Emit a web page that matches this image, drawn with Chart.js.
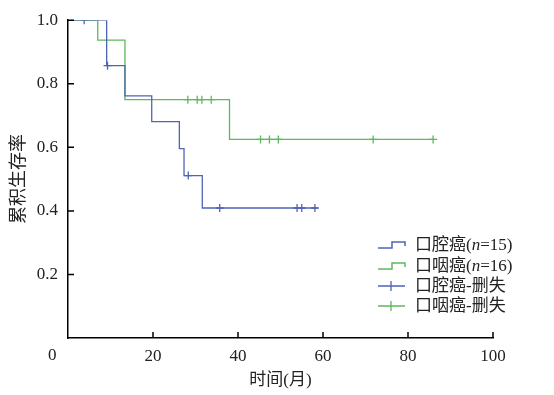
<!DOCTYPE html>
<html>
<head>
<meta charset="utf-8">
<script src="https://cdn.jsdelivr.net/npm/chart.js@4.4.0/dist/chart.umd.min.js"></script>
<style>
  body { margin: 0; background: #fff; }
  #wrap { position: relative; width: 554px; height: 395px; }
  .lab { position: absolute; font-family: "Times New Roman", "Liberation Serif", "DejaVu Serif", "Noto Sans CJK SC", serif; font-size: 17px; color: #222; line-height: 20px; white-space: nowrap; }
  .row { position: absolute; left: 376px; height: 20px; display: flex; align-items: center; }
  .row svg { margin-right: 9px; }
</style>
</head>
<body>
<div id="wrap">
  <canvas id="km" width="554" height="395"></canvas>
  <div class="lab" style="left:48px; top:345px;">0</div>
  <div class="lab row" style="top:235px;"><svg width="30" height="12"><polyline points="2,9 16,9 16,3 29,3 29,7" fill="none" stroke="#5064b4" stroke-width="1.5"/></svg>口腔癌(<i>n</i>=15)</div>
  <div class="lab row" style="top:256px;"><svg width="30" height="12"><polyline points="2,9 16,9 16,3 29,3 29,7" fill="none" stroke="#5cb85c" stroke-width="1.5"/></svg>口咽癌(<i>n</i>=16)</div>
  <div class="lab row" style="top:276px;"><svg width="30" height="12"><path d="M2,6 H29 M15,1 V11" fill="none" stroke="#5064b4" stroke-width="1.3"/></svg>口腔癌-删失</div>
  <div class="lab row" style="top:296px;"><svg width="30" height="12"><path d="M2,6 H29 M15,1 V11" fill="none" stroke="#5cb85c" stroke-width="1.3"/></svg>口咽癌-删失</div>
</div>
<script>
// 口腔癌 (n=15)
var oralTime = [0, 9.1, 13.4, 19.7, 26.2, 27.3, 31.6, 58.7];
var oralSurv = [1, 0.857, 0.762, 0.681, 0.596, 0.511, 0.409, 0.409];
var oralCensTime = [3.8, 9.3, 28.3, 35.7, 53.9, 55.0, 58.1];
var oralCensSurv = [1, 0.857, 0.511, 0.409, 0.409, 0.409, 0.409];

// 口咽癌 (n=16)
var pharTime = [0, 7.0, 13.4, 38.0, 85.9];
var pharSurv = [1, 0.9375, 0.75, 0.625, 0.625];
var pharCensTime = [28.2, 30.4, 31.5, 33.7, 45.3, 47.4, 49.5, 71.8, 85.9];
var pharCensSurv = [0.75, 0.75, 0.75, 0.75, 0.625, 0.625, 0.625, 0.625, 0.625];

var xTicks = [0, 20, 40, 60, 80, 100];
var yTicks = [0, 0.2, 0.4, 0.6, 0.8, 1.0];

var blue = '#5064b4';
var green = '#5cb85c';

function pts(xs, ys) { return xs.map(function (v, i) { return { x: v, y: ys[i] }; }); }

Chart.defaults.font.family = '"Times New Roman", "Liberation Serif", "DejaVu Serif", "Noto Sans CJK SC", serif';
Chart.defaults.font.size = 17;
Chart.defaults.color = '#222';

// ticks point into the plot area
const inwardTicks = {
  id: 'inwardTicks',
  afterDraw(chart) {
    const { ctx, scales: { x, y } } = chart;
    ctx.save();
    ctx.strokeStyle = '#000';
    ctx.lineWidth = 1.5;
    ctx.beginPath();
    x.ticks.forEach(t => {
      if (t.value <= 0) return;
      const px = x.getPixelForValue(t.value);
      ctx.moveTo(px, y.bottom);
      ctx.lineTo(px, y.bottom - 6);
    });
    y.ticks.forEach(t => {
      if (t.value <= 0) return;
      const py = y.getPixelForValue(t.value);
      ctx.moveTo(x.left, py);
      ctx.lineTo(x.left + 6, py);
    });
    ctx.stroke();
    ctx.restore();
  }
};

new Chart(document.getElementById('km'), {
  type: 'line',
  data: {
    datasets: [
      { data: pts(oralTime, oralSurv), borderColor: blue, borderWidth: 1.3, stepped: 'before', pointRadius: 0, fill: false },
      { data: pts(pharTime, pharSurv), borderColor: green, borderWidth: 1.3, stepped: 'before', pointRadius: 0, fill: false },
      { data: pts(oralCensTime, oralCensSurv), showLine: false, pointStyle: 'cross', pointRadius: 4, pointBorderWidth: 1.3, pointBorderColor: blue },
      { data: pts(pharCensTime, pharCensSurv), showLine: false, pointStyle: 'cross', pointRadius: 4, pointBorderWidth: 1.3, pointBorderColor: green }
    ]
  },
  options: {
    responsive: false,
    animation: false,
    layout: { padding: { left: 0, right: 61, top: 11, bottom: 0 } },
    plugins: { legend: { display: false }, tooltip: { enabled: false } },
    scales: {
      x: {
        type: 'linear', min: 0, max: 100,
        afterBuildTicks: s => { s.ticks = xTicks.map(v => ({ value: v })); },
        ticks: { padding: 8, maxRotation: 0, callback: v => v === 0 ? '' : v },
        grid: { display: true, drawOnChartArea: false, drawTicks: false },
        border: { color: '#000', width: 1.5 },
        title: { display: true, text: '时间(月)', font: { size: 17 }, padding: { top: 2, bottom: 4 } },
        afterFit: s => { s.height = 57; }
      },
      y: {
        min: 0, max: 1,
        afterBuildTicks: s => { s.ticks = yTicks.map(v => ({ value: v })); },
        ticks: { padding: 10, callback: v => v === 0 ? '' : v.toFixed(1) },
        grid: { display: true, drawOnChartArea: false, drawTicks: false },
        border: { color: '#000', width: 1.5 },
        title: { display: true, text: '累积生存率', font: { size: 18, family: '"Noto Sans CJK SC", sans-serif' }, padding: { top: 6, bottom: 4 } },
        afterFit: s => { s.width = 68; }
      }
    }
  },
  plugins: [inwardTicks]
});
</script>
</body>
</html>
